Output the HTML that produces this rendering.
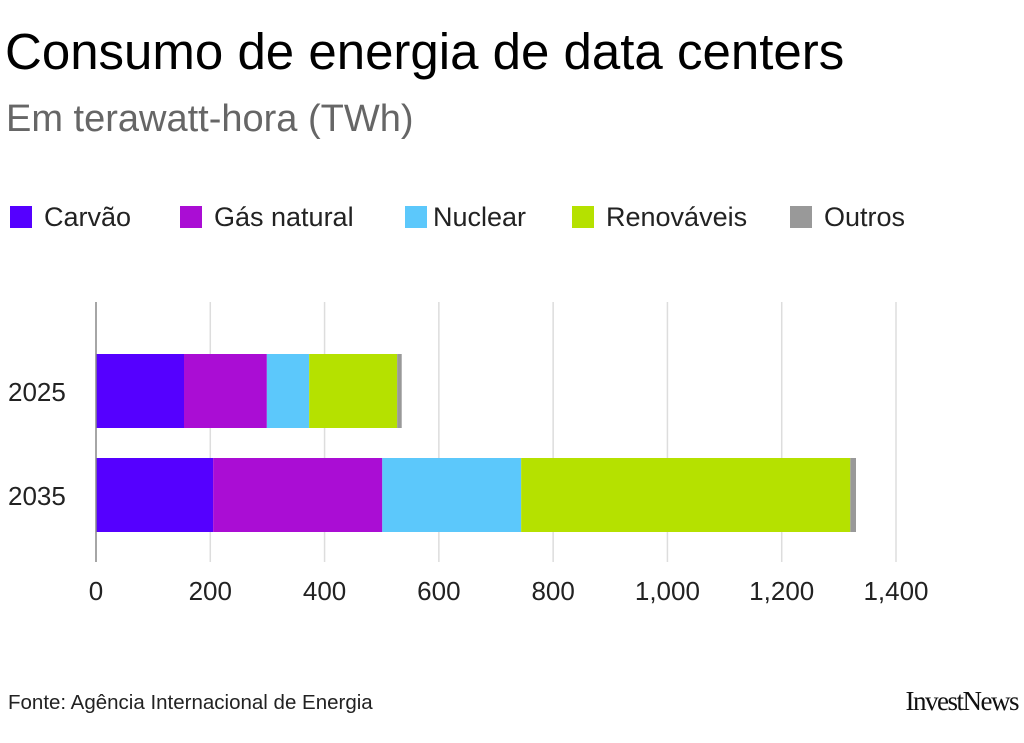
<!DOCTYPE html>
<html><head><meta charset="utf-8"><style>
body{margin:0;background:#fff;width:1024px;height:743px;overflow:hidden;font-family:"Liberation Sans",sans-serif}
#title{position:absolute;left:5px;top:22px;font-family:"Liberation Sans Narrow","Liberation Sans",sans-serif;font-size:51px;color:#000;white-space:nowrap}
#sub{position:absolute;left:6px;top:98px;font-family:"Liberation Sans Narrow","Liberation Sans",sans-serif;font-size:38px;color:#666;white-space:nowrap}
.leg{position:absolute;top:202px;font-size:27px;color:#222;white-space:nowrap}
.sw{display:inline-block;width:22px;height:22px;vertical-align:-2px;margin-right:12px}
#src{position:absolute;left:8px;top:691px;font-size:20.5px;color:#222;white-space:nowrap}
#logo{position:absolute;right:6px;top:686px;font-family:"Liberation Serif",serif;font-size:27px;letter-spacing:-1.5px;color:#111}
</style></head><body>
<div id="title">Consumo de energia de data centers</div>
<div id="sub">Em terawatt-hora (TWh)</div>
<div class="leg" style="left:10px"><span class="sw" style="background:#5500ff"></span>Carvão</div>
<div class="leg" style="left:180px"><span class="sw" style="background:#aa0dd4"></span>Gás natural</div>
<div class="leg" style="left:405px"><span class="sw" style="background:#5cc8fb;margin-right:6px"></span>Nuclear</div>
<div class="leg" style="left:572px"><span class="sw" style="background:#b5e100"></span>Renováveis</div>
<div class="leg" style="left:790px"><span class="sw" style="background:#999"></span>Outros</div>
<svg id="chart" width="1024" height="743" style="position:absolute;left:0;top:0"></svg>
<div id="src">Fonte: Agência Internacional de Energia</div>
<div id="logo">InvestNews</div>
<script>
const categories=["2025","2035"];
const carvao=[154,205];
const gas=[145,296];
const nuclear=[74,243];
const renovaveis=[154,576];
const outros=[8,10];
const ticks=[0,200,400,600,800,1000,1200,1400];
const tickLabels=["0","200","400","600","800","1,000","1,200","1,400"];
const seriesList=[carvao,gas,nuclear,renovaveis,outros];
const seriesNames=["carvao","gas-natural","nuclear","renovaveis","outros"];
const colors=["#5500ff","#aa0dd4","#5cc8fb","#b5e100","#999999"];
const NS="http://www.w3.org/2000/svg";
const svg=document.getElementById('chart');
const x=v=>96+v*(800/1400);
const yTop=i=>354+i*104;
const bh=74;
function mk(t,a){const e=document.createElementNS(NS,t);for(const k in a)e.setAttribute(k,a[k]);svg.appendChild(e);return e;}
ticks.forEach((t,i)=>{
 if(t>0){const g=mk('line',{x1:x(t),x2:x(t),y1:302,y2:562,stroke:'#ddd','stroke-width':1.5});
 
 }
 const l=mk('text',{x:x(t),y:600,'text-anchor':'middle','font-size':26,fill:'#222','font-family':'Liberation Sans, sans-serif'});
 l.textContent=tickLabels[i];
 
 
});
categories.forEach((c,i)=>{
 let acc=0;
 seriesList.forEach((s,j)=>{
  const r=mk('rect',{x:x(acc),y:yTop(i),width:x(acc+s[i])-x(acc),height:bh,fill:colors[j]});
  
  
  acc+=s[i];
 });
 const l=mk('text',{x:8,y:yTop(i)+bh/2+10,'font-size':26,fill:'#222','font-family':'Liberation Sans, sans-serif'});
 l.textContent=c;
 
 
});
const ax=mk('line',{x1:96,x2:96,y1:302,y2:562,stroke:'#888','stroke-width':1.5});


</script>
</body></html>
